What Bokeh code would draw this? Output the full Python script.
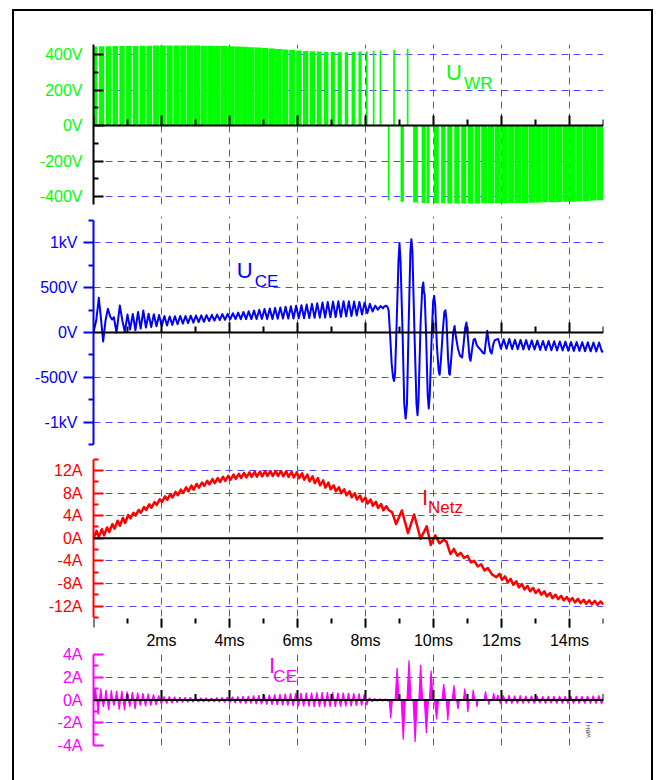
import math
from bokeh.plotting import figure
from bokeh.models import (LinearAxis, FixedTicker, Range1d, Span, Label, Grid,
                          ColumnDataSource)
from bokeh.layouts import column
from bokeh.embed import file_html
from bokeh.resources import INLINE

# ---------------------------------------------------------------- data
# time axis (ms)
time_ticks = [0, 2, 4, 6, 8, 10, 12, 14]
time_minor = [1, 3, 5, 7, 9, 11, 13, 15]
time_grid = [2, 4, 6, 8, 10, 12, 14]
time_labels = ["2ms", "4ms", "6ms", "8ms", "10ms", "12ms", "14ms"]

uwr_ticks = [-400, -200, 0, 200, 400]
uwr_minor = [-300, -100, 100, 300]
uwr_labels = ["-400V", "-200V", "0V", "200V", "400V"]

uce_ticks = [-1000, -500, 0, 500, 1000]
uce_minor = [-1250, -750, -250, 250, 750, 1250]
uce_labels = ["-1kV", "-500V", "0V", "500V", "1kV"]

inetz_ticks = [-12, -8, -4, 0, 4, 8, 12]
inetz_minor = [-14, -10, -6, -2, 2, 6, 10, 14]
inetz_labels = ["-12A", "-8A", "-4A", "0A", "4A", "8A", "12A"]
INETZ_FLOOR = -14.21        # lower end of the I_Netz plot area, where the time ticks hang

ice_ticks = [-4, -2, 0, 2, 4]
ice_minor = [-3, -1, 1, 3]
ice_labels = ["-4A", "-2A", "0A", "2A", "4A"]

# U_WR: PWM pulses (centre time ms, width ms, amplitude V)
uwr_pos_t = [0.04, 0.24, 0.44, 0.64, 0.84, 1.04, 1.24, 1.44, 1.64, 1.84,
             2.04, 2.24, 2.44, 2.64, 2.84, 3.04, 3.24, 3.44, 3.64, 3.84,
             4.04, 4.24, 4.44, 4.64, 4.84, 5.04, 5.24, 5.44, 5.64, 5.84,
             6.04, 6.24, 6.44, 6.64, 6.84, 7.04, 7.24, 7.44, 7.64, 7.84,
             8.04, 8.24, 8.44, 8.84, 9.24]
uwr_pos_w = [0.15, 0.15, 0.155, 0.16, 0.16, 0.165, 0.165, 0.17, 0.17, 0.175,
             0.175, 0.18, 0.18, 0.185, 0.185, 0.19, 0.19, 0.195, 0.195, 0.195,
             0.195, 0.195, 0.195, 0.195, 0.195, 0.195, 0.195, 0.19, 0.18, 0.17,
             0.16, 0.155, 0.15, 0.145, 0.135, 0.12, 0.125, 0.10, 0.10, 0.09,
             0.05, 0.05, 0.05, 0.05, 0.05]
uwr_pos_v = [445, 446, 446, 447, 447, 448, 448, 449, 449, 450,
             450, 450, 450, 450, 450, 450, 449, 449, 448, 447,
             446, 445, 443, 441, 439, 437, 434, 431, 428, 425,
             422, 420, 418, 416, 415, 414, 413, 413, 414, 416,
             418, 420, 422, 425, 432]
uwr_neg_t = [8.68, 9.08, 9.47, 9.71, 9.84, 10.08, 10.29, 10.48, 10.69, 10.89,
             11.09, 11.29, 11.49, 11.69, 11.89, 12.09, 12.29, 12.49, 12.69, 12.89,
             13.09, 13.29, 13.49, 13.69, 13.89, 14.09, 14.29, 14.49, 14.69, 14.89]
uwr_neg_w = [0.05, 0.10, 0.14, 0.12, 0.09, 0.15, 0.13, 0.15, 0.16, 0.15,
             0.16, 0.17, 0.175, 0.18, 0.185, 0.185, 0.19, 0.19, 0.19, 0.19,
             0.19, 0.19, 0.19, 0.19, 0.19, 0.19, 0.19, 0.19, 0.19, 0.2]
uwr_neg_v = [-422, -428, -433, -435, -435, -437, -437, -438, -438, -438,
             -438, -438, -437, -437, -437, -437, -436, -436, -435, -434,
             -433, -432, -431, -430, -429, -428, -426, -424, -422, -420]

# U_CE (V)
uce_start_t = [0.0, 0.08, 0.157, 0.225, 0.284, 0.353, 0.422, 0.50, 0.55, 0.60,
               0.676, 0.775, 0.85, 0.92]
uce_start_v = [0, 134, 387, 134, -100, 134, 264, 171, 145, 171, 0, 301, 130, 10]
RIPPLE_A_T0, RIPPLE_A = 1.0, 0.155          # ripple before turn-off (ms)
uce_a_peak = [200, 208, 230, 245, 210, 205, 195, 185, 180, 182,
              185, 185, 188, 190, 192, 195, 198, 200, 205, 208,
              215, 222, 230, 238, 245, 255, 262, 268, 275, 280,
              287, 293, 300, 305, 312, 320, 328, 335, 342, 345,
              348, 350, 348, 345, 342, 335, 320, 300, 295]
uce_a_trough = [35, 25, 45, 55, 60, 70, 72, 78, 85, 92,
                100, 105, 110, 115, 120, 128, 132, 138, 142, 148,
                150, 150, 150, 150, 150, 152, 152, 152, 153, 155,
                155, 157, 158, 160, 162, 164, 166, 168, 170, 172,
                175, 180, 185, 190, 200, 215, 235, 255, 270]
uce_burst_t = [8.55, 8.60, 8.64, 8.68, 8.72, 8.77, 8.81, 8.84, 8.87, 8.92,
               8.97, 9.00, 9.03, 9.09, 9.14, 9.18, 9.22, 9.27, 9.32, 9.35,
               9.38, 9.44, 9.50, 9.53, 9.56, 9.62, 9.67, 9.70, 9.72, 9.74,
               9.78, 9.83, 9.86, 9.89, 9.95, 9.99, 10.02, 10.05, 10.10, 10.15,
               10.18, 10.22, 10.28, 10.32, 10.35, 10.38, 10.43, 10.46, 10.48, 10.52,
               10.58, 10.62, 10.66, 10.72, 10.78, 10.84, 10.88, 10.93, 10.97, 11.01,
               11.06, 11.09, 11.13, 11.18, 11.22, 11.27, 11.33, 11.40, 11.46, 11.50,
               11.54, 11.58, 11.62, 11.67, 11.71, 11.76, 11.80]
uce_burst_v = [290, 300, 290, 250, 0, -350, -500, -540, -450, 150,
               800, 993, 800, 0, -800, -960, -800, 100, 900, 1042,
               900, 0, -800, -923, -750, 100, 500, 558, 450, 420,
               0, -700, -848, -700, 0, 350, 409, 300, -150, -420,
               -472, -300, 50, 230, 249, 150, -300, -460, -472, -300,
               0, 74, -50, -180, -260, -279, -150, 50, 112, -50,
               -280, -316, -200, -80, -70, -140, -170, -200, -230, -234,
               -100, 19, -100, -210, -234, -130, -86]
RIPPLE_C_T0, RIPPLE_C = 11.9, 0.165         # ripple after turn-off (ms)
uce_c_peak = [-70, -75, -72, -80, -82, -85, -88, -90, -95, -95,
              -98, -100, -102, -105, -105, -108, -110, -112, -112]
uce_c_trough = [-180, -182, -185, -185, -188, -190, -190, -195, -195, -198,
                -200, -200, -203, -205, -205, -208, -210, -212, -215]
uce_end_v = -205

# I_Netz (A)
INETZ_A_T0 = 0.0
inetz_a_lo = [0.0, 0.2, 0.5, 1.1, 1.7, 2.2, 2.7, 3.5, 4.0, 4.5,
              5.0, 5.4, 5.9, 6.4, 6.8, 7.2, 7.6, 8.0, 8.3, 8.6,
              8.95, 9.25, 9.55, 9.75, 9.95, 10.15, 10.35, 10.5, 10.65, 10.75,
              10.85, 10.9, 10.95, 11.0, 11.0, 11.0, 10.95, 10.85, 10.75, 10.6,
              10.35, 10.05, 9.75, 9.35, 8.95, 8.65, 8.3, 7.95, 7.6, 7.25,
              6.85, 6.5, 6.15, 5.75, 5.35, 4.95]
inetz_a_hi = [1.3, 1.6, 1.9, 2.5, 3.1, 3.6, 4.1, 4.5, 5.0, 5.5,
              6.0, 6.4, 6.9, 7.4, 7.8, 8.2, 8.6, 9.0, 9.3, 9.6,
              9.85, 10.15, 10.45, 10.65, 10.85, 11.05, 11.25, 11.4, 11.55, 11.65,
              11.75, 11.8, 11.85, 11.9, 11.9, 11.9, 11.85, 11.75, 11.65, 11.5,
              11.25, 10.95, 10.65, 10.25, 9.85, 9.35, 9.0, 8.65, 8.3, 7.95,
              7.55, 7.2, 6.85, 6.45, 6.05, 5.65]
inetz_burst_t = [8.68, 8.78, 8.90, 9.07, 9.25, 9.43, 9.62, 9.80, 9.92, 10.05,
                 10.18, 10.30, 10.38, 10.50, 10.60, 10.70, 10.80, 10.90, 11.00, 11.10,
                 11.20, 11.30, 11.40, 11.50, 11.60, 11.72]
inetz_burst_v = [5.0, 4.6, 2.5, 4.9, 0.9, 4.2, -0.1, 2.1, -1.2, 0.5,
                 -0.9, -0.3, -0.6, -2.8, -1.9, -3.1, -2.6, -3.5, -3.1, -4.3,
                 -4.0, -5.0, -4.6, -5.7, -5.3, -6.4]
INETZ_C_T0 = 11.85
inetz_c_lo = [-6.9, -7.35, -7.8, -8.25, -8.7, -9.05, -9.4, -9.7, -10.0, -10.3,
              -10.6, -10.8, -11.0, -11.2, -11.35, -11.5, -11.6, -11.7, -11.8]
inetz_c_hi = [-6.3, -6.75, -7.2, -7.65, -8.1, -8.45, -8.8, -9.1, -9.4, -9.7,
              -10.0, -10.2, -10.4, -10.6, -10.75, -10.9, -11.0, -11.1, -11.2]
inetz_end_v = -11.7

# I_CE (A): per ripple period a positive and a negative spike
ICE_A_T0 = 0.02
ice_a_pos = [1.0, 1.0, 0.9, 0.85, 0.8, 0.8, 0.75, 0.7, 0.65, 0.6,
             0.55, 0.5, 0.4, 0.32, 0.3, 0.28, 0.26, 0.25, 0.23, 0.22,
             0.2, 0.2, 0.2, 0.22, 0.24, 0.26, 0.28, 0.3, 0.33, 0.36,
             0.4, 0.42, 0.45, 0.48, 0.5, 0.52, 0.55, 0.58, 0.6, 0.62,
             0.64, 0.66, 0.68, 0.7, 0.7, 0.68, 0.66, 0.64, 0.62, 0.6,
             0.58, 0.5, 0.2, 0.12, 0.1, 0.1]
ice_a_neg = [1.3, 0.6, 0.9, 0.5, 0.85, 0.9, 0.6, 0.8, 0.5, 0.55,
             0.5, 0.45, 0.35, 0.3, 0.28, 0.25, 0.22, 0.2, 0.2, 0.18,
             0.18, 0.18, 0.18, 0.2, 0.22, 0.24, 0.26, 0.28, 0.3, 0.32,
             0.35, 0.38, 0.4, 0.42, 0.45, 0.48, 0.5, 0.52, 0.55, 0.56,
             0.58, 0.6, 0.6, 0.62, 0.6, 0.6, 0.58, 0.56, 0.55, 0.52,
             0.5, 0.45, 0.15, 0.1, 0.1, 0.1]
ice_burst_t = [8.70, 8.74, 8.79, 8.87, 8.93, 8.99, 9.05, 9.11, 9.17, 9.22,
               9.28, 9.34, 9.40, 9.46, 9.52, 9.57, 9.62, 9.68, 9.73, 9.79,
               9.85, 9.88, 9.93, 9.99, 10.03, 10.09, 10.15, 10.25, 10.30, 10.36,
               10.38, 10.42, 10.47, 10.55, 10.60, 10.65, 10.68, 10.72, 10.76, 10.88,
               10.92, 10.96, 10.98, 11.01, 11.05, 11.13, 11.17, 11.21, 11.25, 11.28,
               11.31, 11.49, 11.53, 11.57, 11.60, 11.63, 11.66, 11.73, 11.77, 11.81]
ice_burst_v = [0, -1.6, 0, 0, 2.8, 0, 0, -3.5, 0, 0,
               3.5, 0, 0, -3.7, 0, 0, 3.1, 0, 0, -2.9,
               0, 0, 2.6, 0, 0, -1.7, 0, 0, 1.4, 0,
               0, -1.8, 0, 0, 1.3, 0, 0, -0.8, 0, 0,
               1.0, 0, 0, -1.05, 0, 0, 0.9, 0, 0, -0.6,
               0, 0, 0.75, 0, 0, -0.4, 0, 0, 0.6, 0]
ICE_C_T0 = 11.85
ice_c_pos = [0.45, 0.4, 0.42, 0.38, 0.4, 0.35, 0.38, 0.35, 0.33, 0.35,
             0.33, 0.35, 0.33, 0.35, 0.35, 0.33, 0.35, 0.38, 0.4]
ice_c_neg = [0.35, 0.3, 0.32, 0.3, 0.3, 0.28, 0.3, 0.28, 0.3, 0.28,
             0.3, 0.3, 0.3, 0.3, 0.32, 0.3, 0.3, 0.32, 0.35]

# ---------------------------------------------------------------- helpers
def alternate(t0, period, first, second, lag):
    xs, ys = [], []
    for k, (a, b) in enumerate(zip(first, second)):
        t = t0 + k * period
        xs += [t, t + lag]
        ys += [a, b]
    return xs, ys


def spikes(t0, period, pos, neg):
    xs, ys = [], []
    for k, (a, b) in enumerate(zip(pos, neg)):
        t = t0 + k * period
        xs += [t, t + period / 4, t + period / 2, t + 3 * period / 4]
        ys += [0, a, 0, -b]
    xs.append(t0 + len(pos) * period)
    ys.append(0)
    return xs, ys


x1, y1 = alternate(RIPPLE_A_T0, RIPPLE_A, uce_a_peak, uce_a_trough, RIPPLE_A / 2)
x2, y2 = alternate(RIPPLE_C_T0, RIPPLE_C, uce_c_peak, uce_c_trough, RIPPLE_C / 2)
uce_x = uce_start_t + x1 + uce_burst_t + x2 + [15.0]
uce_y = uce_start_v + y1 + uce_burst_v + y2 + [uce_end_v]

x1, y1 = alternate(INETZ_A_T0, RIPPLE_A, inetz_a_lo, inetz_a_hi, 0.09)
x2, y2 = alternate(INETZ_C_T0, RIPPLE_C, inetz_c_lo, inetz_c_hi, 0.09)
inetz_x = x1 + inetz_burst_t + x2 + [15.0]
inetz_y = y1 + inetz_burst_v + y2 + [inetz_end_v]

x1, y1 = spikes(ICE_A_T0, RIPPLE_A, ice_a_pos, ice_a_neg)
x2, y2 = spikes(ICE_C_T0, RIPPLE_C, ice_c_pos, ice_c_neg)
ice_x = x1 + ice_burst_t + x2 + [15.0]
ice_y = y1 + ice_burst_v + y2 + [0]

# ---------------------------------------------------------------- styling
FONT = "Liberation Sans"
GRID = "#4d4dff"
GREEN = "#00ff00"
BLUE = "#0000ff"
RED = "#ff0000"
MAGENTA = "#ff00ff"


def panel(height, top, bottom, y0, y1):
    p = figure(width=637, height=height, x_range=Range1d(0, 15),
               y_range=Range1d(y0, y1), output_backend="svg",
               toolbar_location=None, x_axis_type=None, y_axis_type=None,
               min_border_left=79, min_border_right=48,
               min_border_top=top, min_border_bottom=bottom)
    p.outline_line_color = None
    p.background_fill_color = "white"
    p.border_fill_color = "white"
    return p


def add_grids(p, yticks):
    p.add_layout(Grid(dimension=0, ticker=FixedTicker(ticks=time_grid),
                      grid_line_color=GRID, grid_line_dash="7 5",
                      grid_line_width=1))
    p.add_layout(Grid(dimension=1, ticker=FixedTicker(ticks=[t for t in yticks if t != 0]),
                      grid_line_color=GRID, grid_line_dash="7 5",
                      grid_line_width=1))


def add_yaxis(p, ticks, minor, labels, line_color, label_color, inward, bounds="auto"):
    ax = LinearAxis(ticker=FixedTicker(ticks=ticks, minor_ticks=minor),
                    major_label_overrides={t: s for t, s in zip(ticks, labels)},
                    bounds=bounds)
    ax.axis_line_color = line_color
    ax.axis_line_width = 2
    ax.major_tick_line_color = line_color
    ax.minor_tick_line_color = line_color
    ax.major_tick_line_width = 2
    ax.minor_tick_line_width = 2
    if inward:
        ax.major_tick_in, ax.major_tick_out = 10, 0
        ax.minor_tick_in, ax.minor_tick_out = 5, 0
        ax.major_label_standoff = 11
    else:
        ax.major_tick_in, ax.major_tick_out = 0, 10
        ax.minor_tick_in, ax.minor_tick_out = 0, 5
        ax.major_label_standoff = 6
    ax.major_label_text_color = label_color
    ax.major_label_text_font = FONT
    ax.major_label_text_font_size = "16px"
    p.add_layout(ax, "left")
    return ax


def add_time_ticks(p, base, direction, major_len, minor_len):
    # time ticks drawn as short rays (screen lengths) from a horizontal base line
    ang = math.pi / 2 if direction > 0 else -math.pi / 2
    p.ray(x=time_ticks, y=[base] * len(time_ticks), length=major_len,
          length_units="screen", angle=ang, line_color="black", line_width=2)
    p.ray(x=time_minor, y=[base] * len(time_minor), length=minor_len,
          length_units="screen", angle=ang, line_color="black", line_width=2)


def add_zero_axis(p):
    p.add_layout(Span(location=0, dimension="width", line_color="black", line_width=2))
    add_time_ticks(p, 0, +1, 10, 6)


def name_label(p, x, y, text, size, color):
    p.add_layout(Label(x=x, y=y, text=text, text_font=FONT, text_font_size=size,
                       text_color=color, text_baseline="middle", text_align="left"))


# ---- panel 1: U_WR
p1 = panel(199, 33, 6, -444, 456)
add_grids(p1, uwr_ticks)
pos_src = ColumnDataSource(dict(
    left=[c - w / 2 for c, w in zip(uwr_pos_t, uwr_pos_w)],
    right=[c + w / 2 for c, w in zip(uwr_pos_t, uwr_pos_w)],
    top=uwr_pos_v, bottom=[0] * len(uwr_pos_v)))
neg_src = ColumnDataSource(dict(
    left=[c - w / 2 for c, w in zip(uwr_neg_t, uwr_neg_w)],
    right=[c + w / 2 for c, w in zip(uwr_neg_t, uwr_neg_w)],
    top=[0] * len(uwr_neg_v), bottom=uwr_neg_v))
p1.quad(left="left", right="right", top="top", bottom="bottom", source=pos_src,
        fill_color=GREEN, line_color=None)
p1.quad(left="left", right="right", top="top", bottom="bottom", source=neg_src,
        fill_color=GREEN, line_color=None)
add_yaxis(p1, uwr_ticks, uwr_minor, uwr_labels, "black", GREEN, True)
add_zero_axis(p1)
name_label(p1, 10.37, 298, "U", "22px", GREEN)
name_label(p1, 10.9, 236, "WR", "17px", GREEN)

# ---- panel 2: U_CE
p2 = panel(236, 6, 0, -1272, 1295)
add_grids(p2, uce_ticks)
p2.line(uce_x, uce_y, line_color=BLUE, line_width=2, line_join="round")
add_yaxis(p2, uce_ticks, uce_minor, uce_labels, BLUE, BLUE, False, (-1250, 1250))
add_zero_axis(p2)
name_label(p2, 4.21, 692, "U", "22px", BLUE)
name_label(p2, 4.74, 569, "CE", "17px", BLUE)

# ---- panel 3: I_Netz
p3 = panel(182, 0, 0, -15.98, 16.23)
add_grids(p3, inetz_ticks)
p3.add_layout(Span(location=0, dimension="width", line_color="black", line_width=2))
p3.line(inetz_x, inetz_y, line_color=RED, line_width=2.5, line_join="round")
add_yaxis(p3, inetz_ticks, inetz_minor, inetz_labels, RED, RED, True, (-14, 14))
add_time_ticks(p3, INETZ_FLOOR, -1, 9, 5)
name_label(p3, 9.66, 7.2, "I", "22px", RED)
name_label(p3, 9.84, 5.35, "Netz", "17px", RED)

# ---- panel 4: I_CE
p4 = panel(152, 21, 35, -4, 4)
add_grids(p4, ice_ticks)
p4.varea(x=ice_x, y1=[0] * len(ice_x), y2=ice_y, fill_color=MAGENTA)
p4.line(ice_x, ice_y, line_color=MAGENTA, line_width=1.2)
add_yaxis(p4, ice_ticks, ice_minor, ice_labels, MAGENTA, MAGENTA, True)
add_zero_axis(p4)
xt = LinearAxis(ticker=FixedTicker(ticks=time_grid, minor_ticks=[]),
                major_label_overrides={t: s for t, s in zip(time_grid, time_labels)})
xt.axis_line_color = None
xt.major_tick_line_color = None
xt.minor_tick_line_color = None
xt.major_label_text_font = FONT
xt.major_label_text_font_size = "16px"
xt.major_label_text_color = "black"
xt.major_label_standoff = 0
p4.add_layout(xt, "above")
name_label(p4, 5.16, 3.0, "I", "22px", MAGENTA)
name_label(p4, 5.29, 2.08, "CE", "17px", MAGENTA)
p4.add_layout(Label(x=14.55, y=-3.3, text="wBH", text_font=FONT, text_font_size="6px",
                    text_color="#333333", angle=math.pi / 2, text_baseline="middle"))

layout = column(p1, p2, p3, p4, spacing=0, margin=(9, 0, 0, 12),
                styles={"border": "2px solid black"})

open("out.html", "w").write(file_html(layout, INLINE))
